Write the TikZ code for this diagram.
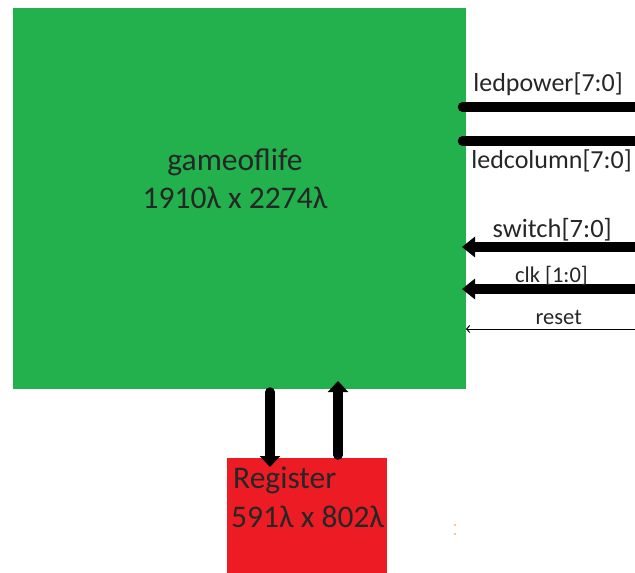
\documentclass[tikz,border=0pt]{standalone}
\usepackage{fontspec}
\setmainfont{Carlito}
\usetikzlibrary{arrows.meta}
\definecolor{gamegreen}{HTML}{22B14C}
\definecolor{regred}{HTML}{ED1C24}
\definecolor{dotorange}{HTML}{F7B267}
\begin{document}
\begin{tikzpicture}[x=1pt,y=-1pt,
  block/.style={inner sep=0pt, outer sep=0pt, anchor=north west, draw=none},
  bigtext/.style={inner sep=0pt, font=\fontsize{31.5}{38}\selectfont, text=black!85},
  sigtext/.style={inner sep=0pt, anchor=base east, font=\fontsize{26}{30}\selectfont, text=black!85},
  midtext/.style={inner sep=0pt, anchor=base east, font=\fontsize{26.5}{30}\selectfont, text=black!85},
  smalltext/.style={inner sep=0pt, anchor=base east, font=\fontsize{22.5}{26}\selectfont, text=black!85},
  bus/.style={line width=9.5pt, line cap=round},
  busin/.style={line width=9.5pt, -{Triangle[length=13pt,width=20pt]}},
  vbus/.style={line width=9.5pt, line cap=round, -{Triangle[length=11pt,width=20pt]}},
  wire/.style={line width=1pt, -{Straight Barb[length=3pt,width=7pt]}}
]
\useasboundingbox (0,0) rectangle (635,573);
% blocks
\node[block, fill=gamegreen, minimum width=453pt, minimum height=381pt] (gol) at (13,8) {};
\node[block, fill=regred, minimum width=160pt, minimum height=120pt] (reg) at (227,458) {};
% block labels
\node[bigtext, anchor=base] (golname) at (235,170) {gameoflife};
\node[bigtext, anchor=base] (golsize) at (235,208) {1910λ x 2274λ};
\node[bigtext, anchor=base west] (regname) at (233,488) {Register};
\node[bigtext, anchor=base west] (regsize) at (231,527) {591λ x 802λ};
% right-side signal ends
\coordinate (lpA) at (462.5,107);
\coordinate (lpB) at (640,107);
\coordinate (lcA) at (462.5,141);
\coordinate (lcB) at (640,141);
\coordinate (swA) at (640,247);
\coordinate (swB) at (462,247);
\coordinate (ckA) at (640,289);
\coordinate (ckB) at (462,289);
\coordinate (rsA) at (640,329);
\coordinate (rsB) at (466,329);
\draw[bus] (lpA) -- (lpB);
\draw[bus] (lcA) -- (lcB);
\draw[busin] (swA) -- (swB);
\draw[busin] (ckA) -- (ckB);
\draw[wire] (rsA) -- (rsB);
% signal labels
\node[sigtext] (lplabel) at (623,91) {ledpower[7:0]};
\node[sigtext] (lclabel) at (632,168) {ledcolumn[7:0]};
\node[midtext] (swlabel) at (612,237) {switch[7:0]};
\node[smalltext] (cklabel) at (588,282) {clk [1:0]};
\node[smalltext] (rslabel) at (582,324) {reset};
% vertical buses between blocks
\coordinate (downA) at (270,392);
\coordinate (downB) at (270,467);
\coordinate (upA) at (338,455);
\coordinate (upB) at (338,381);
\draw[vbus] (downA) -- (downB);
\draw[vbus] (upA) -- (upB);
% stray dots
\fill[dotorange] (455,525) circle (1.1pt) (455,534) circle (1.1pt);
\end{tikzpicture}
\end{document}
